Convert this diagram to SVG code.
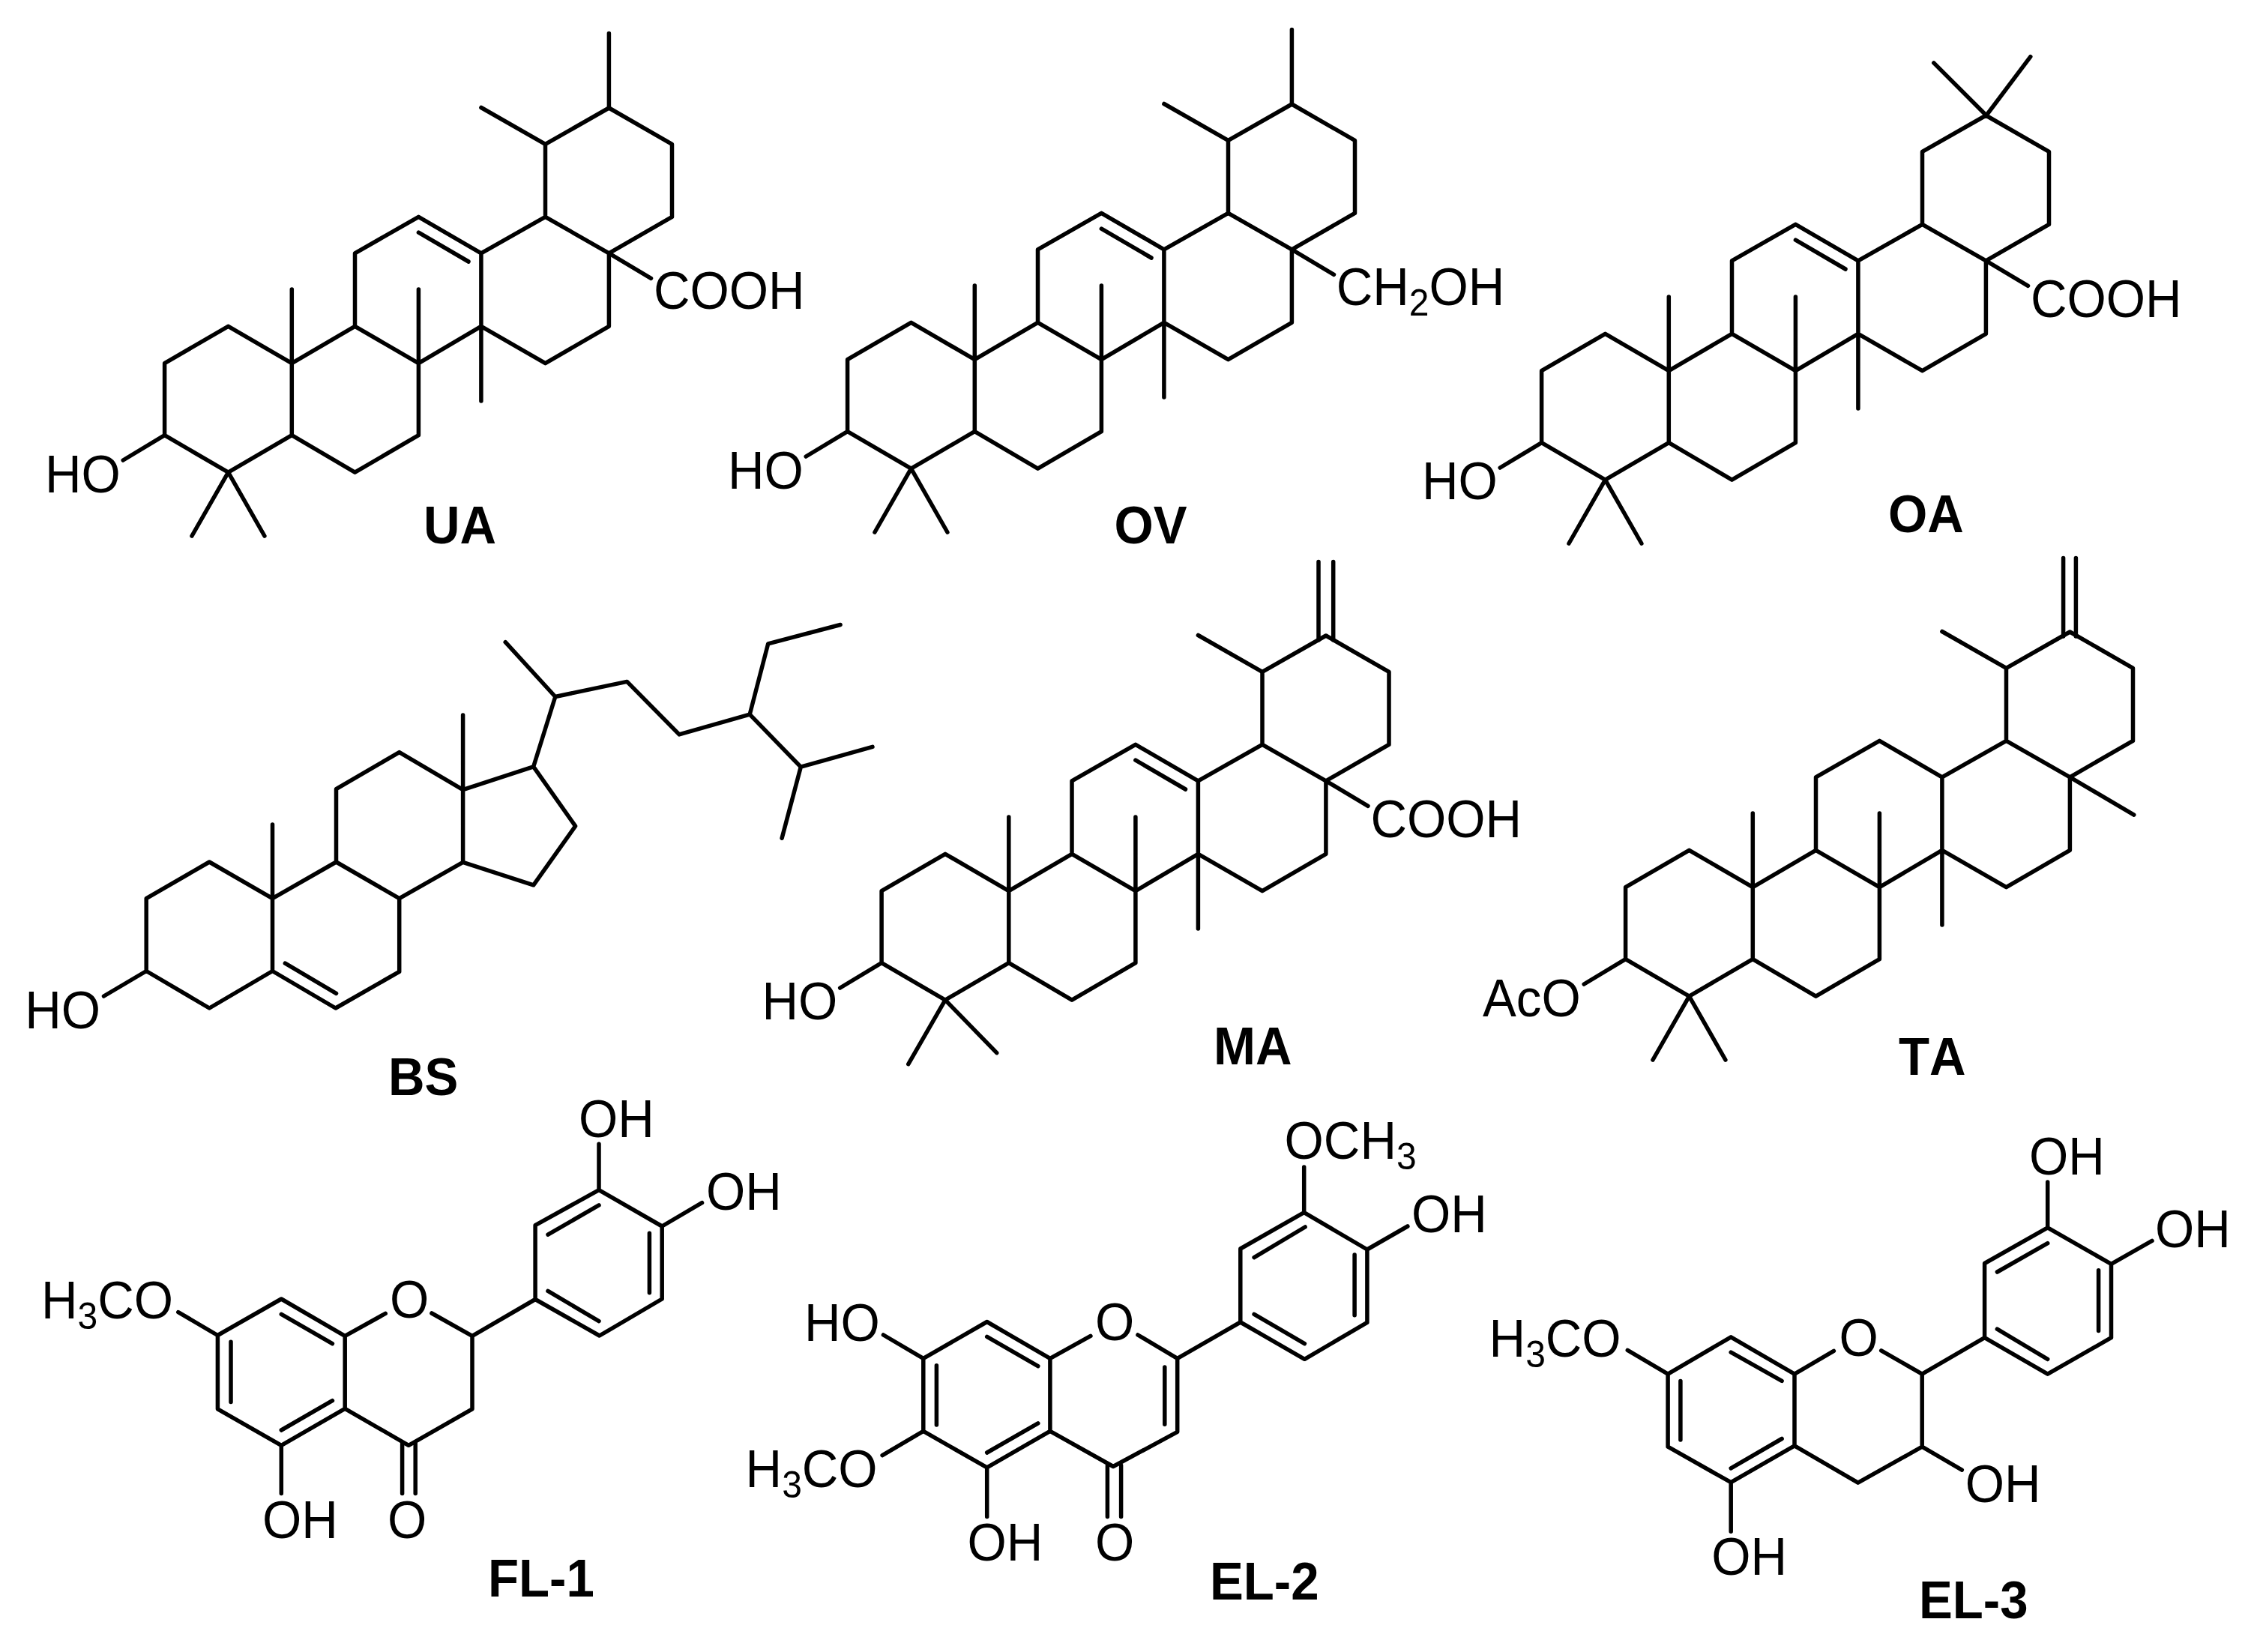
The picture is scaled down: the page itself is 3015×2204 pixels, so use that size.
<svg xmlns="http://www.w3.org/2000/svg" xmlns:xlink="http://www.w3.org/1999/xlink" width="3015" height="2204" viewBox="0 0 3015 2204">
<style>
.b{fill:none;stroke:#000;stroke-width:5.5;stroke-linejoin:round;stroke-linecap:round}
.t,.l{font-family:"Liberation Sans",Arial,sans-serif;font-size:70px;fill:#000;font-kerning:none;transform-box:fill-box;transform-origin:0 0;transform:scaleX(.96)}
.s{font-size:50px}
.l{font-weight:bold}
</style>
<defs>
<path id="core" d="M219.6 484.7L304.5 435.3L389.3 484.7L389.3 580.7L304.5 630.1L219.6 580.7ZM389.3 484.7L473.5 435.3L558.4 484.7L558.4 580.7L473.5 630.1L389.3 580.7M473.5 435.3L473.5 337.8L558.4 289.4L641.9 337.8L641.9 435.3L558.4 484.7M641.9 337.8L727.5 289.4L812.4 337.8L812.4 435.3L727.5 484.7L641.9 435.3M727.5 289.4L727.5 192.4L812.4 144L896.5 192.4L896.5 289.4L812.4 337.8M389.3 484.7L389.3 386M558.4 484.7L558.4 386M641.9 435.3L641.9 535M219.6 580.7L164.2 614"/>
<path id="gem" d="M256 715L304.5 630.1L352.9 715"/>
<path id="ene" d="M558.4 310.2L625 349"/>
<path id="acid" d="M812.4 337.8L868.5 371.3"/>
</defs>
<rect width="3015" height="2204" fill="#fff"/>
<g id="UA">
<g class="b"><use xlink:href="#core" href="#core"/><use xlink:href="#gem" href="#gem"/><use xlink:href="#ene" href="#ene"/><use xlink:href="#acid" href="#acid"/><path d="M812.4 144L812.4 44.6M727.5 192.4L641.9 143.5"/></g>
<text class="t" x="60" y="657">HO</text><text class="t" x="872" y="412">COOH</text><text class="l" x="565" y="724.6">UA</text>
</g>
<g id="OV">
<g class="b" transform="translate(911,-5)"><use xlink:href="#core" href="#core"/><use xlink:href="#gem" href="#gem"/><use xlink:href="#ene" href="#ene"/><use xlink:href="#acid" href="#acid"/><path d="M812.4 144L812.4 44.6M727.5 192.4L641.9 143.5"/></g>
<text class="t" x="971" y="652">HO</text><text class="t" x="1782.7" y="407">CH<tspan class="s" dy="14">2</tspan><tspan dy="-14">OH</tspan></text><text class="l" x="1486.5" y="724.6">OV</text>
</g>
<g id="OA">
<g class="b" transform="translate(1837,10)"><use xlink:href="#core" href="#core"/><use xlink:href="#gem" href="#gem"/><use xlink:href="#ene" href="#ene"/><use xlink:href="#acid" href="#acid"/><path d="M742.8 73.9L812.9 144L871.8 65.6"/></g>
<text class="t" x="1897" y="666.5">HO</text><text class="t" x="2709" y="423">COOH</text><text class="l" x="2519" y="710">OA</text>
</g>
<g id="BS">
<path class="b" d="M195.2 1198.6L279.3 1150L363.5 1198.6L363.5 1295.5L279.3 1345L195.2 1295.5ZM363.5 1198.6L448.5 1150L532.7 1198.6L532.7 1296.4L447.7 1345L363.5 1295.5M448.5 1150L448.5 1052.7L532.7 1003.6L617.6 1053.6L617.6 1150.4L532.7 1198.6M617.6 1053.6L711.7 1022.8L767.6 1102.2L711.7 1180.8L617.6 1150.4M363.5 1198.6L363.5 1100M617.6 1053.6L617.6 954M711.7 1022.8L740.8 929.5L674.2 856.7M740.8 929.5L836.5 909.4L906.1 979.9L1000.2 953.1L1024.7 858.9L1121.1 833.5M1000.2 953.1L1068.3 1023.2L1164 996.4M1068.3 1023.2L1043.1 1118.3M195.2 1295.5L138.5 1329M380.4 1285.2L448.5 1325.4"/>
<text class="t" x="33.3" y="1372">HO</text><text class="l" x="518" y="1460.7">BS</text>
</g>
<g id="MA">
<g class="b" transform="translate(956.5,704)"><use xlink:href="#core" href="#core"/><use xlink:href="#ene" href="#ene"/><use xlink:href="#acid" href="#acid"/><path d="M255.3 715.7L304.5 630.1L373.2 700.7M727.5 192.4L641.9 143.5M802.5 45.4L802.5 150M822.2 45.4L822.2 150"/></g>
<text class="t" x="1016.5" y="1360">HO</text><text class="t" x="1828.5" y="1117">COOH</text><text class="l" x="1619" y="1419.7">MA</text>
</g>
<g id="TA">
<g class="b" transform="translate(1949,699)"><use xlink:href="#core" href="#core"/><use xlink:href="#gem" href="#gem"/><path d="M727.5 192.4L641.9 143.5M803.6 45.5L803.6 150M820.4 45.5L820.4 150M812.4 337.8L897.8 388.2"/></g>
<text class="t" x="1978" y="1356">AcO</text><text class="l" x="2533" y="1434.3">TA</text>
</g>
<g id="FL-1">
<path class="b" d="M290.4 1781.5L375.3 1733L460.2 1782.4L460.2 1879.4L375.3 1928.3L290.4 1879.8ZM460.2 1782.4L514.2 1752.4M575.9 1752L630 1782.4L630 1879.8L545.1 1928.3L460.2 1879.4M630 1782.4L714.1 1733.5L714.1 1634.7L799 1587.6L883.2 1636L883.2 1733L799.7 1782L714.1 1733.5M731 1647.1L799 1607.9M866.4 1645.3L866.4 1724.7M731 1722.4L799 1762.6M375.3 1753.3L443.4 1792.6M308 1790.3L308 1870.6M375.3 1908L443.4 1868.7M290.4 1781.5L237.8 1750.6M375.3 1928.3L375.3 1992.5M536.6 1925.5L536.6 1992.5M554.2 1925.5L554.2 1992.5M799 1587.6L799 1526.2M883.2 1636L936.5 1604.7"/>
<text class="t" x="55" y="1759.3">H<tspan class="s" dy="14">3</tspan><tspan dy="-14">CO</tspan></text><text class="t" x="520" y="1758.4">O</text><text class="t" x="772" y="1517">OH</text><text class="t" x="942" y="1614">OH</text><text class="t" x="350" y="2051.6">OH</text><text class="t" x="517" y="2051.6">O</text><text class="l" x="651" y="2129.6">FL-1</text>
</g>
<g id="EL-2">
<path class="b" d="M1231.8 1812.4L1316.7 1763.5L1400.9 1812.4L1400.9 1909.4L1316.7 1957.9L1231.8 1909.4ZM1400.9 1812.4L1454.9 1782.4M1518 1781L1570.7 1812.4L1570.7 1910.3L1485.1 1956.5L1400.9 1909.4M1553.8 1824L1553.8 1900.2M1570.7 1812.4L1654.8 1764L1654.8 1666L1739.7 1617.6L1823.9 1667L1823.9 1764.4L1740.4 1813.3L1654.8 1764M1673.1 1677.6L1741.1 1637M1807.1 1673.9L1807.1 1754.7M1673.1 1753.3L1740.4 1792.6M1316.7 1783.3L1384.8 1822.6M1249.4 1821.7L1249.4 1901M1316.7 1938L1384.8 1898.8M1231.8 1812.4L1178.5 1781M1231.8 1909.4L1177.1 1941.7M1316.7 1957.9L1316.7 2023.4M1477.4 1955L1477.4 2023.4M1495.6 1955L1495.6 2023.4M1739.7 1617.6L1739.7 1557.1M1823.9 1667L1877.9 1636"/>
<text class="t" x="1713.6" y="1546">OCH<tspan class="s" dy="14">3</tspan></text><text class="t" x="1883" y="1644">OH</text><text class="t" x="1073" y="1789.3">HO</text><text class="t" x="994.6" y="1984.2">H<tspan class="s" dy="14">3</tspan><tspan dy="-14">CO</tspan></text><text class="t" x="1461" y="1788.4">O</text><text class="t" x="1290.6" y="2081.6">OH</text><text class="t" x="1461" y="2081.6">O</text><text class="l" x="1614" y="2134.2">EL-2</text>
</g>
<g id="EL-3">
<path class="b" d="M2225.1 1833.2L2309.2 1783.8L2394 1833.2L2394 1928.8L2309.2 1977.7L2225.1 1930.2ZM2394 1833.2L2446.4 1802.3M2509.7 1801.8L2564.2 1833.2L2564.2 1930.2L2478.7 1978.2L2394 1928.8M2564.2 1930.2L2617.3 1961.1M2564.2 1833.2L2647.6 1784.7L2647.6 1685.5L2731.7 1637.9L2816.5 1686.4L2816.5 1784.7L2731.7 1833.2L2647.6 1784.7M2664.4 1697L2731.7 1658.7M2799.6 1694.7L2799.6 1775.5M2664.4 1773.2L2731.7 1813.3M2309.2 1804.1L2377.1 1842.4M2241.9 1842.4L2241.9 1920.9M2309.2 1958.8L2377.1 1919.5M2225.1 1833.2L2171.3 1801.3M2309.2 1977.7L2309.2 2043.3M2731.7 1637.9L2731.7 1577M2816.5 1686.4L2871 1655.4"/>
<text class="t" x="2707" y="1566.8">OH</text><text class="t" x="2875" y="1664">OH</text><text class="t" x="1986.6" y="1810">H<tspan class="s" dy="14">3</tspan><tspan dy="-14">CO</tspan></text><text class="t" x="2453.5" y="1809">O</text><text class="t" x="2621.7" y="2004">OH</text><text class="t" x="2283.3" y="2101">OH</text><text class="l" x="2560" y="2159.2">EL-3</text>
</g>
</svg>
